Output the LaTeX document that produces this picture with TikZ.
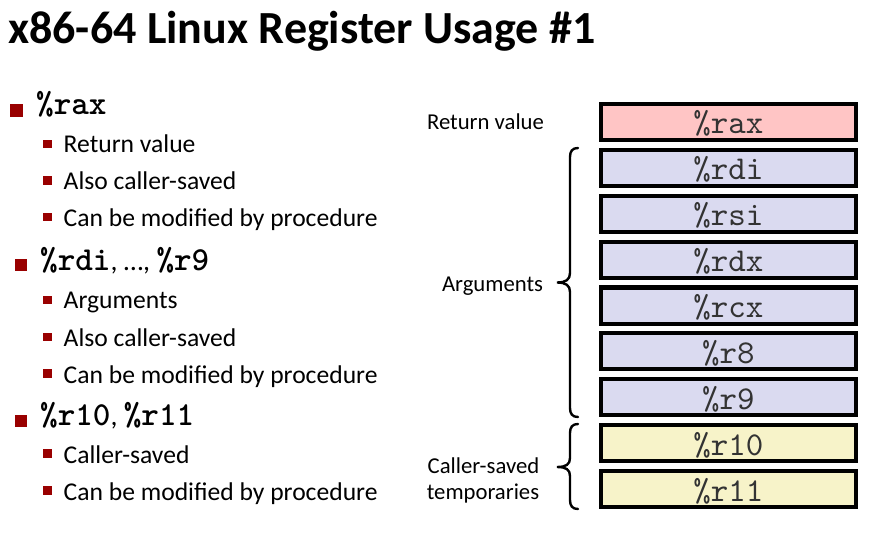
\documentclass[tikz,border=0pt]{standalone}
\usepackage{fontspec}
\setmainfont{Carlito}
\newfontfamily\regmono{lmmono10-regular.otf}
\newfontfamily\boldmono{lmmonolt10-bold.otf}
\definecolor{bulred}{HTML}{990000}
\definecolor{raxfill}{HTML}{FFC5C5}
\definecolor{argfill}{HTML}{DADAF0}
\definecolor{tmpfill}{HTML}{F7F3C9}
\definecolor{regtext}{HTML}{333333}
\newcommand{\bm}[1]{{\boldmono\fontsize{33.5}{34}\selectfont #1}}
\begin{document}
\begin{tikzpicture}[x=1pt,y=-1pt,
  reg/.style={draw=black,line width=4pt,minimum width=254.7pt,minimum height=36pt,
    inner sep=0pt,text height=24pt,text depth=0pt,text=regtext,
    font=\fontsize{33.3}{34}\regmono},
  lbl/.style={anchor=base,inner sep=0pt,font=\fontsize{22.7}{26}\selectfont},
  subtxt/.style={anchor=base west,inner sep=0pt,font=\fontsize{25.6}{28}\selectfont},
  maintxt/.style={anchor=base west,inner sep=0pt,font=\fontsize{28}{30}\selectfont},
  subbul/.style={fill=bulred,inner sep=0pt,minimum size=8.3pt},
  mainbul/.style={fill=bulred,inner sep=0pt,minimum size=12pt},
  bracestyle/.style={line width=2.4pt,line cap=round}]
\useasboundingbox[fill=white] (0,0) rectangle (875,537);

% title
\node[anchor=base west,inner sep=0pt,font=\fontsize{46}{48}\selectfont\bfseries] (title) at (8,44) {x86-64 Linux Register Usage \#1};

% left bullets
\node[mainbul,minimum size=13pt] (b1) at (16.5,110.6) {};
\node[maintxt] (t1) at (36,115) {\bm{\%rax}};
\node[subbul] (s11) at (47.5,143.7) {};
\node[subtxt] (u11) at (63.5,153) {Return value};
\node[subbul] (s12) at (47.5,180.5) {};
\node[subtxt] (u12) at (63.5,190) {Also caller-saved};
\node[subbul] (s13) at (47.5,217.2) {};
\node[subtxt] (u13) at (63.5,226.7) {Can be modified by procedure};

\node[mainbul] (b2) at (20.8,265.5) {};
\node[maintxt] (t2) at (40,270) {\bm{\%rdi}, …, \bm{\%r9}};
\node[subbul] (s21) at (47.5,300) {};
\node[subtxt] (u21) at (63.5,308) {Arguments};
\node[subbul] (s22) at (47.5,337) {};
\node[subtxt] (u22) at (63.5,346.7) {Also caller-saved};
\node[subbul] (s23) at (47.5,373.5) {};
\node[subtxt] (u23) at (63.5,383) {Can be modified by procedure};

\node[mainbul] (b3) at (20.8,420.5) {};
\node[maintxt] (t3) at (40,425) {\bm{\%r10}, \bm{\%r11}};
\node[subbul] (s31) at (47.5,453.5) {};
\node[subtxt] (u31) at (63.5,463) {Caller-saved};
\node[subbul] (s32) at (47.5,490.5) {};
\node[subtxt] (u32) at (63.5,500) {Can be modified by procedure};

% registers
\node[reg,fill=raxfill] (rax) at (728.3,122) {\%rax};
\node[reg,fill=argfill] (rdi) at (728.3,167.9) {\%rdi};
\node[reg,fill=argfill] (rsi) at (728.3,213.75) {\%rsi};
\node[reg,fill=argfill] (rdx) at (728.3,259.6) {\%rdx};
\node[reg,fill=argfill] (rcx) at (728.3,305.5) {\%rcx};
\node[reg,fill=argfill] (r8) at (728.3,351.4) {\%r8};
\node[reg,fill=argfill] (r9) at (728.3,397.25) {\%r9};
\node[reg,fill=tmpfill] (r10) at (728.3,443.1) {\%r10};
\node[reg,fill=tmpfill] (r11) at (728.3,489) {\%r11};

% labels
\node[lbl] (lret) at (485.5,130) {Return value};
\node[lbl] (larg) at (492.5,291) {Arguments};
\node[lbl] (ltmp1) at (483.5,473) {Caller-saved};
\node[lbl] (ltmp2) at (483,499) {temporaries};

% braces
\draw[bracestyle] (578,148) .. controls (572.5,148) and (570,151) .. (570,157)
  -- (570,273) .. controls (570,279.5) and (566,282.5) .. (557,282.5)
  .. controls (566,282.5) and (570,285.5) .. (570,292)
  -- (570,408) .. controls (570,414) and (572.5,417) .. (578,417);
\draw[bracestyle] (578,424) .. controls (572.5,424) and (570,427) .. (570,433)
  -- (570,458) .. controls (570,464.5) and (566,467) .. (557,467)
  .. controls (566,467) and (570,469.5) .. (570,476)
  -- (570,500) .. controls (570,506) and (572.5,509) .. (578,509);
\end{tikzpicture}
\end{document}
